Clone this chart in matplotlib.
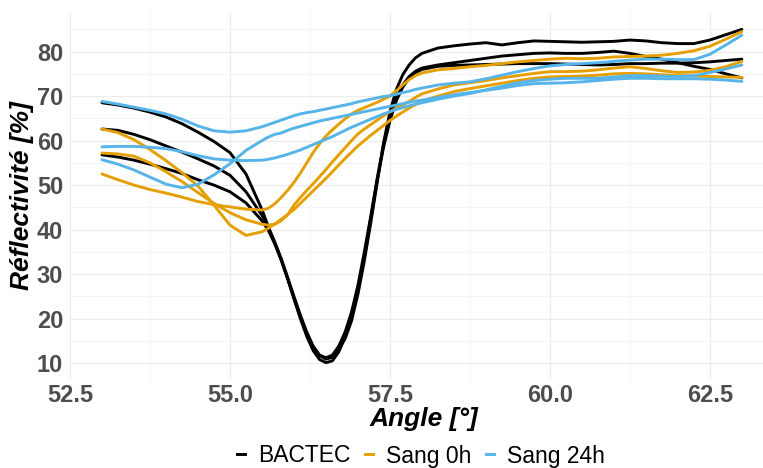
import matplotlib
matplotlib.use("Agg")
import matplotlib.pyplot as plt
from matplotlib.lines import Line2D

# angle grid (deg), finer around the resonance dip
angle = [53.0, 53.25, 53.5, 53.75, 54.0, 54.25, 54.5, 54.75, 55.0, 55.25, 55.5,
         55.6, 55.7, 55.8, 55.9, 56.0, 56.1, 56.2, 56.3, 56.4, 56.5,
         56.6, 56.7, 56.8, 56.9, 57.0, 57.1, 57.2, 57.3, 57.4, 57.5,
         57.6, 57.7, 57.8, 57.9, 58.0, 58.25, 58.5, 58.75, 59.0, 59.25,
         59.5, 59.75, 60.0, 60.25, 60.5, 60.75, 61.0, 61.25, 61.5, 61.75,
         62.0, 62.25, 62.5, 62.75, 63.0]

# BACTEC
bactec_1 = [68.5, 68.0, 67.3, 66.4, 65.3, 63.8, 61.9, 59.8, 57.3, 52.5, 44.5,
            40.6, 37.0, 33.2, 29.0, 24.5, 20.3, 16.6, 13.6, 11.7, 10.9,
            11.3, 13.0, 15.5, 19.5, 25.5, 33.0, 41.5, 50.5, 59.5, 66.5,
            71.5, 74.8, 77.0, 78.6, 79.6, 80.8, 81.3, 81.7, 82.0, 81.5,
            82.0, 82.4, 82.3, 82.2, 82.1, 82.2, 82.3, 82.6, 82.4, 82.0,
            81.8, 81.8, 82.6, 83.8, 85.0]
bactec_2 = [62.6, 62.3, 61.4, 60.2, 58.8, 57.4, 55.9, 54.3, 52.2, 48.5, 43.2,
            40.5, 37.2, 33.5, 29.3, 25.0, 20.8, 17.0, 13.8, 11.8, 11.2,
            11.8, 13.8, 17.0, 21.5, 27.5, 35.0, 43.0, 51.5, 59.0, 65.0,
            69.5, 72.5, 74.4, 75.6, 76.3, 77.0, 77.5, 78.0, 78.5, 79.0,
            79.3, 79.6, 79.7, 79.6, 79.6, 79.8, 80.1, 79.6, 78.9, 78.3,
            77.5, 76.7, 76.0, 75.0, 74.1]
bactec_3 = [56.8, 56.3, 55.6, 54.7, 53.7, 52.6, 51.2, 50.0, 48.5, 46.0, 42.0,
            39.8, 36.8, 33.2, 29.0, 24.5, 20.0, 16.0, 12.8, 10.8, 10.1,
            10.5, 12.5, 16.0, 20.5, 26.5, 34.0, 42.5, 51.0, 58.5, 64.5,
            69.0, 72.0, 74.0, 75.3, 76.0, 76.7, 76.9, 77.0, 77.1, 77.2,
            77.3, 77.3, 77.3, 77.2, 77.1, 77.0, 77.1, 77.3, 77.3, 77.4,
            77.4, 77.5, 77.7, 78.0, 78.3]

# Sang 0h
sang0_1 = [62.6, 61.8, 60.2, 58.0, 55.5, 52.8, 49.8, 45.5, 41.0, 38.7, 39.5,
           40.3, 41.3, 42.3, 43.4, 44.5, 45.9, 47.3, 48.7, 50.1, 51.5,
           53.0, 54.5, 56.0, 57.4, 58.8, 60.0, 61.2, 62.3, 63.4, 64.5,
           65.5, 66.4, 67.3, 68.1, 68.8, 70.0, 71.0, 71.7, 72.3, 72.9,
           73.5, 74.0, 74.3, 74.4, 74.5, 74.7, 75.0, 75.1, 75.0, 74.8,
           74.6, 74.5, 74.4, 74.3, 74.2]
sang0_2 = [57.2, 57.0, 56.5, 55.0, 53.0, 50.8, 48.3, 45.9, 43.8, 42.2, 41.2,
           41.0, 41.2, 42.0, 43.3, 45.5, 47.2, 48.8, 50.3, 51.9, 53.5,
           55.2, 56.8, 58.4, 60.0, 61.5, 62.6, 63.6, 64.6, 65.6, 66.5,
           67.3, 68.0, 68.8, 69.7, 70.5, 71.6, 72.5, 73.0, 73.5, 74.1,
           74.6, 75.1, 75.5, 75.5, 75.6, 75.9, 76.3, 76.6, 76.2, 75.7,
           75.3, 75.4, 75.8, 76.6, 77.8]
sang0_3 = [52.5, 51.2, 50.0, 49.0, 48.2, 47.3, 46.3, 45.6, 45.1, 44.6, 44.4,
           44.8, 45.8, 47.2, 48.8, 50.6, 52.7, 55.0, 57.3, 59.3, 61.0,
           62.4, 63.7, 64.9, 66.0, 66.8, 67.4, 68.0, 68.6, 69.3, 70.0,
           71.2, 72.5, 73.7, 74.6, 75.2, 75.9, 76.2, 76.6, 76.9, 77.3,
           77.7, 78.0, 78.3, 78.5, 78.4, 78.5, 78.8, 78.9, 79.0, 79.2,
           79.6, 80.2, 81.2, 82.8, 84.5]

# Sang 24h
sang24_1 = [68.8, 68.2, 67.5, 66.8, 66.0, 64.8, 63.3, 62.2, 61.9, 62.2, 63.1,
            63.6, 64.1, 64.6, 65.1, 65.6, 66.0, 66.3, 66.5, 66.8, 67.1,
            67.4, 67.7, 68.0, 68.3, 68.7, 69.0, 69.3, 69.6, 69.9, 70.1,
            70.4, 70.8, 71.1, 71.5, 71.8, 72.5, 72.9, 73.2, 73.9, 74.7,
            75.5, 76.2, 76.8, 77.1, 77.3, 77.5, 77.8, 78.1, 78.3, 78.3,
            78.2, 78.2, 79.4, 81.5, 83.7]
sang24_2 = [58.6, 58.7, 58.7, 58.5, 58.2, 57.5, 56.6, 55.9, 55.6, 55.5, 55.6,
            55.8, 56.1, 56.5, 56.9, 57.4, 57.9, 58.5, 59.1, 59.7, 60.3,
            60.9, 61.6, 62.3, 63.0, 63.6, 64.2, 64.8, 65.4, 66.0, 66.5,
            67.0, 67.4, 67.8, 68.2, 68.5, 69.3, 70.0, 70.6, 71.4, 72.2,
            73.0, 73.5, 73.8, 74.0, 74.0, 74.0, 74.3, 74.6, 74.6, 74.5,
            74.4, 74.6, 75.3, 76.1, 77.0]
sang24_3 = [55.7, 54.7, 53.4, 51.8, 50.2, 49.4, 50.2, 52.3, 54.8, 57.8, 60.0,
            60.8, 61.4, 61.7, 62.3, 62.8, 63.2, 63.6, 64.0, 64.4, 64.7,
            65.0, 65.3, 65.6, 65.9, 66.2, 66.5, 66.8, 67.1, 67.4, 67.7,
            68.0, 68.3, 68.6, 68.9, 69.1, 69.7, 70.3, 70.8, 71.3, 71.8,
            72.4, 72.8, 72.9, 73.0, 73.2, 73.5, 73.8, 74.0, 74.0, 73.9,
            73.9, 73.9, 73.8, 73.6, 73.3]

groups = ["BACTEC", "Sang 0h", "Sang 24h"]
colors = ["#000000", "#E69F00", "#56B4E9"]
series = [
    [bactec_1, bactec_2, bactec_3],
    [sang0_1, sang0_2, sang0_3],
    [sang24_1, sang24_2, sang24_3],
]

plt.rcParams["font.family"] = ["Liberation Sans", "DejaVu Sans"]

fig = plt.figure(figsize=(7.63, 4.68), dpi=100)
ax = fig.add_axes([70 / 763, 1 - 380 / 468, 1 - 70 / 763, (380 - 12) / 468])

# ggplot draws groups in factor order, the last group on top
for grp_series, col in zip(series, colors):
    for ys in grp_series:
        ax.plot(angle, ys, color=col, lw=2.1, solid_joinstyle="round",
                solid_capstyle="round")

ax.set_xlim(52.5, 63.33)
ax.set_ylim(6.2, 88.9)
ax.set_xticks([52.5, 55.0, 57.5, 60.0, 62.5])
ax.set_xticklabels(["52.5", "55.0", "57.5", "60.0", "62.5"])
ax.set_yticks([10, 20, 30, 40, 50, 60, 70, 80])
ax.set_xticks([53.75, 56.25, 58.75, 61.25], minor=True)
ax.set_yticks([15, 25, 35, 45, 55, 65, 75, 85], minor=True)

ax.grid(True, which="major", color="#EBEBEB", lw=0.9)
ax.grid(True, which="minor", color="#F2F2F2", lw=0.6)
ax.set_axisbelow(True)
for sp in ax.spines.values():
    sp.set_visible(False)
ax.tick_params(which="both", length=0)
ax.tick_params(axis="x", pad=3)
ax.tick_params(axis="y", pad=5)
for lab in ax.get_xticklabels() + ax.get_yticklabels():
    lab.set_fontsize(17)
    lab.set_fontweight("bold")
    lab.set_color("#4D4D4D")

ax.set_xlabel("Angle [°]", fontsize=19, fontweight="bold", style="italic",
              color="black")
# title centred on the full panel (which runs past the right edge)
ax.xaxis.set_label_coords((424 - 70) / 693, -(419 - 380) / 368,
                          transform=ax.transAxes)
ax.xaxis.label.set_va("center")
ax.set_ylabel("Réflectivité [%]", fontsize=19, fontweight="bold",
              style="italic", color="black", labelpad=2)

handles = [Line2D([0], [0], color=c, lw=2.1) for c in colors]
fig.legend(handles, groups, loc="center", bbox_to_anchor=(421 / 763, 1 - 456 / 468),
           ncol=3, frameon=False, fontsize=16.5, handlelength=0.35,
           handletextpad=0.55, columnspacing=0.65)

fig.savefig("out.png", dpi=100, facecolor="white")
